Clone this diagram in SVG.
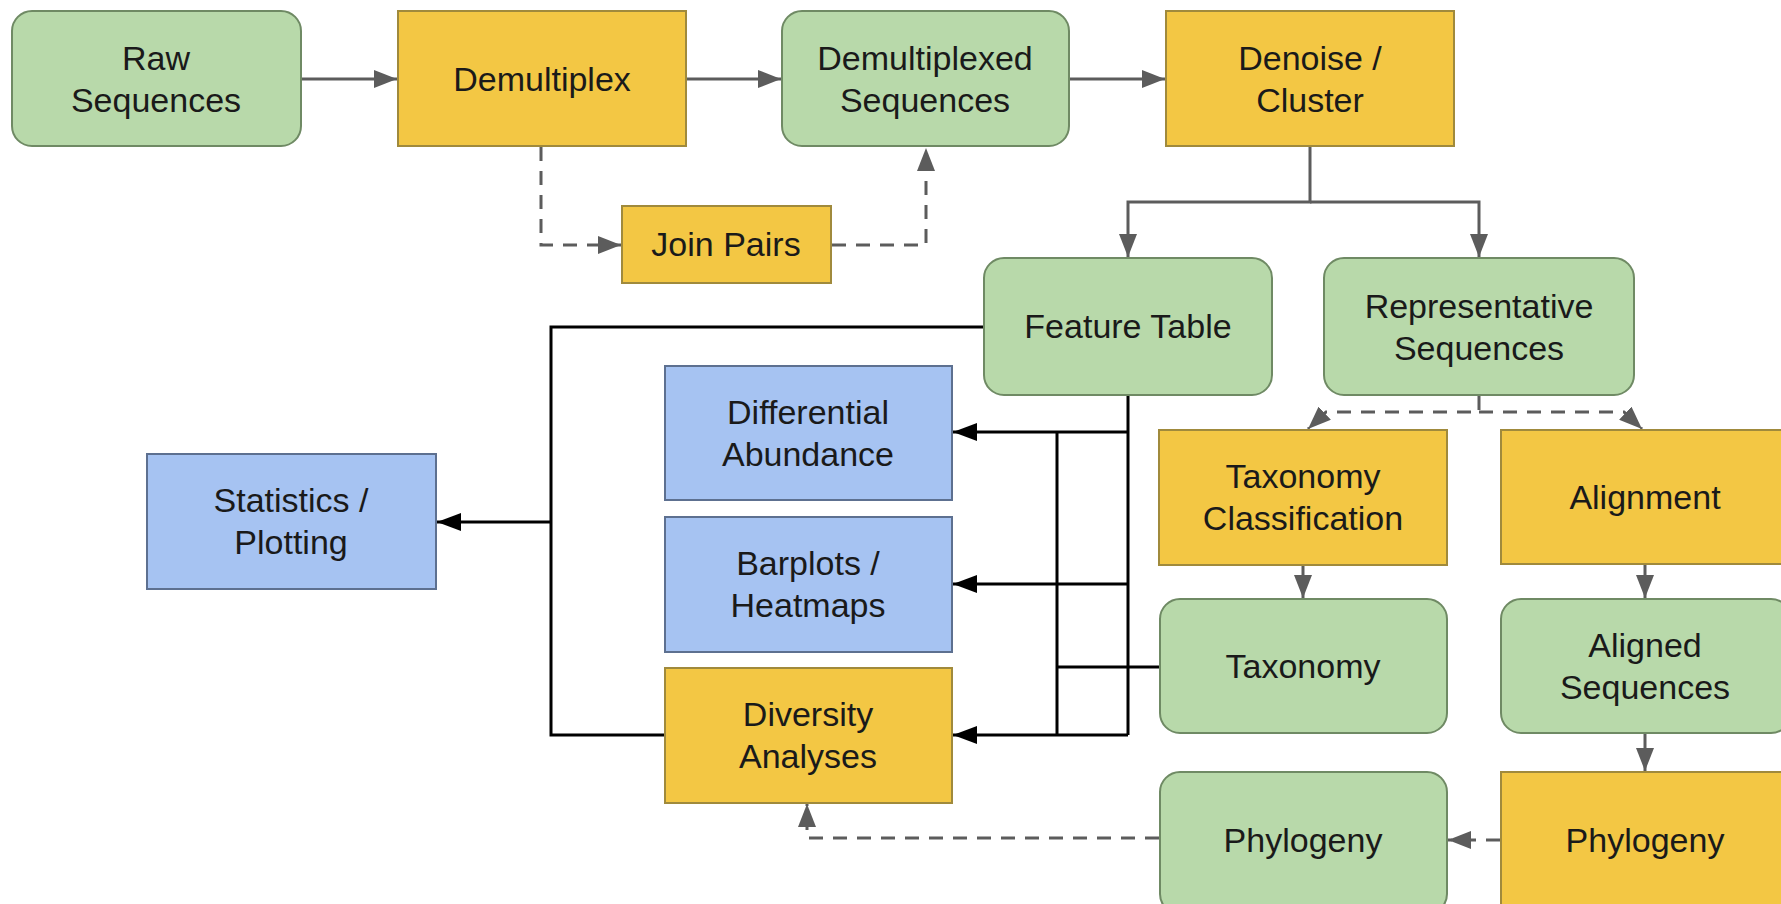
<svg xmlns="http://www.w3.org/2000/svg" width="1781" height="904" viewBox="0 0 1781 904">
<style>
.g{fill:#b8d9aa;stroke:#6f8a64;stroke-width:2}
.y{fill:#f3c744;stroke:#a08a3c;stroke-width:2}
.b{fill:#a6c3f2;stroke:#5d7090;stroke-width:2}
text{font-family:"Liberation Sans",Arial,sans-serif;font-size:34px;fill:#1a1a1a;text-anchor:middle}
.gc{fill:none;stroke:#5c5c5c;stroke-width:3}
.gd{fill:none;stroke:#5c5c5c;stroke-width:3;stroke-dasharray:14,10}
.bc{fill:none;stroke:#000;stroke-width:3}
</style>
<defs>
<marker id="ag" viewBox="0 0 23 18" refX="23" refY="9" markerWidth="23" markerHeight="18" markerUnits="userSpaceOnUse" orient="auto"><path d="M0,0 L23,9 L0,18 Z" fill="#5c5c5c"/></marker>
<marker id="ab" viewBox="0 0 24 18" refX="24" refY="9" markerWidth="24" markerHeight="18" markerUnits="userSpaceOnUse" orient="auto"><path d="M0,0 L24,9 L0,18 Z" fill="#000"/></marker>
</defs>
<rect width="1781" height="904" fill="#ffffff"/>
<g id="connectors">
<path class="gc" d="M302,79 H397" marker-end="url(#ag)"/>
<path class="gc" d="M687,79 H781" marker-end="url(#ag)"/>
<path class="gc" d="M1070,79 H1165" marker-end="url(#ag)"/>
<path class="gd" d="M541,147 V245 H621" marker-end="url(#ag)"/>
<path class="gd" d="M832,245 H926 V148" marker-end="url(#ag)"/>
<path class="gc" d="M1310,147 V202 H1128 V257" marker-end="url(#ag)"/>
<path class="gc" d="M1310,202 H1479 V257" marker-end="url(#ag)"/>
<path class="gd" d="M1479,396 V412 H1326 L1308,429" marker-end="url(#ag)"/>
<path class="gd" d="M1479,412 H1624 L1642,429" marker-end="url(#ag)"/>
<path class="gc" d="M1303,566 V598" marker-end="url(#ag)"/>
<path class="gc" d="M1645,565 V598" marker-end="url(#ag)"/>
<path class="gc" d="M1645,734 V771" marker-end="url(#ag)"/>
<path class="gd" d="M1500,840 H1448" marker-end="url(#ag)"/>
<path class="gd" d="M1159,838 H807 V804" marker-end="url(#ag)"/>
<path class="bc" d="M983,327 H551 V735 H664"/>
<path class="bc" d="M551,522 H437" marker-end="url(#ab)"/>
<path class="bc" d="M1128,396 V735"/>
<path class="bc" d="M1128,432 H953" marker-end="url(#ab)"/>
<path class="bc" d="M1128,584 H953" marker-end="url(#ab)"/>
<path class="bc" d="M1128,735 H953" marker-end="url(#ab)"/>
<path class="bc" d="M1159,667 H1057"/>
<path class="bc" d="M1057,432 V735"/>
</g>
<g id="raw"><rect class="g" x="12" y="11" width="289" height="135" rx="20"/><text x="156" y="70">Raw</text><text x="156" y="112">Sequences</text></g>
<g id="demux"><rect class="y" x="398" y="11" width="288" height="135"/><text x="542" y="91">Demultiplex</text></g>
<g id="demuxed"><rect class="g" x="782" y="11" width="287" height="135" rx="20"/><text x="925" y="70">Demultiplexed</text><text x="925" y="112">Sequences</text></g>
<g id="denoise"><rect class="y" x="1166" y="11" width="288" height="135"/><text x="1310" y="70">Denoise /</text><text x="1310" y="112">Cluster</text></g>
<g id="joinpairs"><rect class="y" x="622" y="206" width="209" height="77"/><text x="726" y="256">Join Pairs</text></g>
<g id="featuretable"><rect class="g" x="984" y="258" width="288" height="137" rx="20"/><text x="1128" y="338">Feature Table</text></g>
<g id="repseqs"><rect class="g" x="1324" y="258" width="310" height="137" rx="20"/><text x="1479" y="318">Representative</text><text x="1479" y="360">Sequences</text></g>
<g id="diffabund"><rect class="b" x="665" y="366" width="287" height="134"/><text x="808" y="424">Differential</text><text x="808" y="466">Abundance</text></g>
<g id="barplots"><rect class="b" x="665" y="517" width="287" height="135"/><text x="808" y="575">Barplots /</text><text x="808" y="617">Heatmaps</text></g>
<g id="diversity"><rect class="y" x="665" y="668" width="287" height="135"/><text x="808" y="726">Diversity</text><text x="808" y="768">Analyses</text></g>
<g id="stats"><rect class="b" x="147" y="454" width="289" height="135"/><text x="291" y="512">Statistics /</text><text x="291" y="554">Plotting</text></g>
<g id="taxclass"><rect class="y" x="1159" y="430" width="288" height="135"/><text x="1303" y="488">Taxonomy</text><text x="1303" y="530">Classification</text></g>
<g id="alignment"><rect class="y" x="1501" y="430" width="290" height="134"/><text x="1645" y="509">Alignment</text></g>
<g id="taxonomy"><rect class="g" x="1160" y="599" width="287" height="134" rx="20"/><text x="1303" y="678">Taxonomy</text></g>
<g id="aligned"><rect class="g" x="1501" y="599" width="290" height="134" rx="20"/><text x="1645" y="657">Aligned</text><text x="1645" y="699">Sequences</text></g>
<g id="phylogeny-result"><rect class="g" x="1160" y="772" width="287" height="142" rx="20"/><text x="1303" y="852">Phylogeny</text></g>
<g id="phylogeny-action"><rect class="y" x="1501" y="772" width="290" height="142"/><text x="1645" y="852">Phylogeny</text></g>
</svg>
